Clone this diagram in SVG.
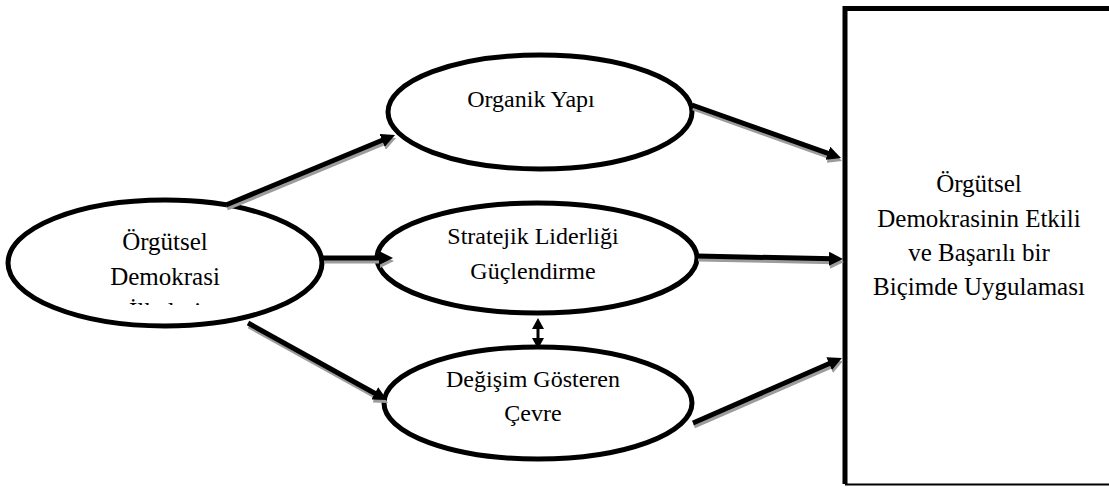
<svg xmlns="http://www.w3.org/2000/svg" width="1109" height="487" viewBox="0 0 1109 487">
  <style>
    .node { fill: #ffffff; stroke: #000000; stroke-width: 5; }
    .label { font-family: "Liberation Serif", "Times New Roman", serif; font-size: 25px; fill: #000000; text-anchor: middle; }
    .label-sm { font-size: 24px; }
    .conn { fill: none; stroke: #000000; stroke-width: 5; }
    .shadow { fill: none; stroke: #9c9c9c; stroke-width: 5; }
    .conn-thin { fill: none; stroke: #000000; stroke-width: 3; }
  </style>
  <defs>
    <marker id="head" viewBox="0 0 16 14" markerUnits="userSpaceOnUse" markerWidth="16" markerHeight="14" refX="4" refY="7" orient="auto">
      <path d="M0,0 L14,7 L0,14 z" fill="#000000"/>
    </marker>
    <marker id="head-shadow" viewBox="0 0 16 14" markerUnits="userSpaceOnUse" markerWidth="16" markerHeight="14" refX="4" refY="7" orient="auto">
      <path d="M0,0 L14,7 L0,14 z" fill="#9c9c9c"/>
    </marker>
    <marker id="head-small" viewBox="0 0 12 12" markerUnits="userSpaceOnUse" markerWidth="12" markerHeight="12" refX="3" refY="6" orient="auto-start-reverse">
      <path d="M0,0 L11,6 L0,12 z" fill="#000000"/>
    </marker>
    <clipPath id="clip-left-text">
      <rect x="60" y="220" width="210" height="85"/>
    </clipPath>
  </defs>

  <rect width="1109" height="487" fill="#ffffff"/>

  <!-- source principles -->
  <g id="node-ilkeler">
    <ellipse class="node" cx="165" cy="263" rx="157" ry="63"/>
    <text class="label" x="165" y="250">Örgütsel</text>
    <text class="label" x="165" y="285">Demokrasi</text>
    <text class="label" x="165" y="320" clip-path="url(#clip-left-text)">İlkeleri</text>
  </g>

  <g id="node-organik">
    <ellipse class="node" cx="540" cy="112" rx="152" ry="57"/>
    <text class="label label-sm" x="531" y="107">Organik Yapı</text>
  </g>

  <g id="node-liderlik">
    <ellipse class="node" cx="537" cy="258" rx="160" ry="55"/>
    <text class="label label-sm" x="533" y="244">Stratejik Liderliği</text>
    <text class="label label-sm" x="533" y="279">Güçlendirme</text>
  </g>

  <g id="node-cevre">
    <ellipse class="node" cx="538" cy="403" rx="154" ry="56"/>
    <text class="label label-sm" x="533" y="387">Değişim Gösteren</text>
    <text class="label label-sm" x="533" y="421">Çevre</text>
  </g>

  <!-- outcome box, open to the right edge -->
  <g id="node-sonuc">
    <rect x="845" y="8.5" width="300" height="475.5" fill="#ffffff" stroke="none"/>
    <path d="M845,484 L845,8.5 L1112,8.5" fill="none" stroke="#000000" stroke-width="5"/>
    <path d="M845,484.5 L1112,484.5" fill="none" stroke="#000000" stroke-width="2"/>
    <text class="label" x="979" y="192">Örgütsel</text>
    <text class="label" x="979" y="227">Demokrasinin Etkili</text>
    <text class="label" x="979" y="261">ve Başarılı bir</text>
    <text class="label" x="979" y="295">Biçimde Uygulaması</text>
  </g>

  <!-- connectors, drawn over the ellipse outlines -->
  <g id="connectors">
    <g transform="translate(1,3)">
      <path class="shadow" d="M226,205 L385.8,138.8" marker-end="url(#head-shadow)"/>
      <path class="shadow" d="M323,258 L383,258" marker-end="url(#head-shadow)"/>
      <path class="shadow" d="M248,323 L378.3,395.2" marker-end="url(#head-shadow)"/>
      <path class="shadow" d="M692,105 L831.6,154.6" marker-end="url(#head-shadow)"/>
      <path class="shadow" d="M697,256 L833,258.8" marker-end="url(#head-shadow)"/>
      <path class="shadow" d="M693,423 L832.8,362" marker-end="url(#head-shadow)"/>
    </g>
    <path class="conn" d="M226,205 L385.8,138.8" marker-end="url(#head)"/>
    <path class="conn" d="M323,258 L383,258" marker-end="url(#head)"/>
    <path class="conn" d="M248,323 L378.3,395.2" marker-end="url(#head)"/>
    <path class="conn" d="M692,105 L831.6,154.6" marker-end="url(#head)"/>
    <path class="conn" d="M697,256 L833,258.8" marker-end="url(#head)"/>
    <path class="conn" d="M693,423 L832.8,362" marker-end="url(#head)"/>
    <path class="conn-thin" d="M538,326 L538,341" marker-start="url(#head-small)" marker-end="url(#head-small)"/>
  </g>
</svg>
